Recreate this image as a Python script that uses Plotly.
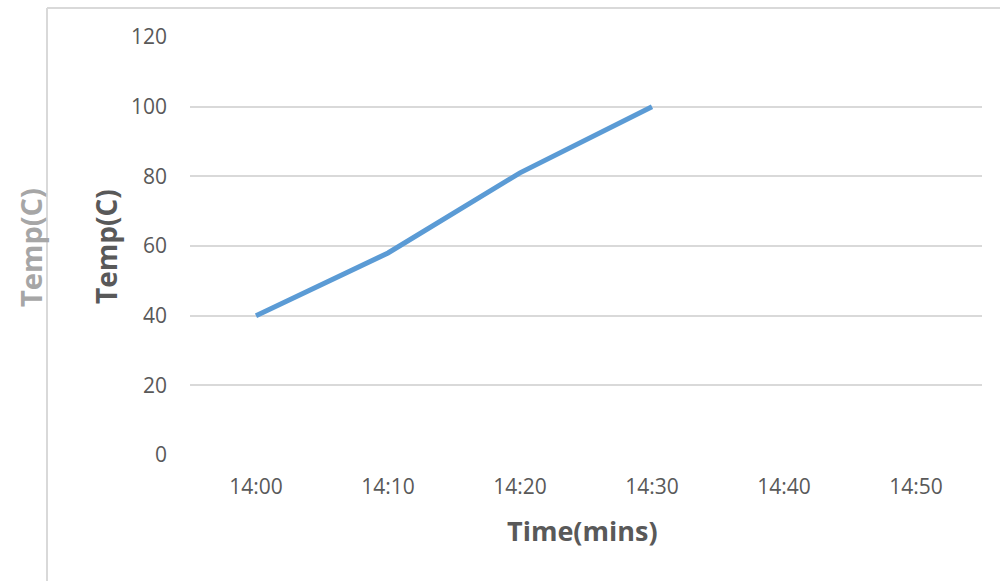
import plotly.graph_objects as go

times = ["14:00", "14:10", "14:20", "14:30", "14:40", "14:50"]
temps = [40, 58, 81, 100, None, None]
y_ticks = [0, 20, 40, 60, 80, 100, 120]

W, H = 1000, 581
L, R, T, B = 190, 18, 37, 126
pw = W - L - R
ph = H - T - B

def px(x):
    return (x - L) / pw

def py(y):
    return (H - B - y) / ph

fig = go.Figure()
fig.add_trace(go.Scatter(
    x=times, y=temps, mode="lines",
    line=dict(color="#5B9BD5", width=5),
    connectgaps=False, showlegend=False, hoverinfo="skip",
))

font_fam = "Open Sans, Liberation Sans, sans-serif"

fig.update_layout(
    width=W, height=H,
    margin=dict(l=L, r=R, t=T, b=B),
    paper_bgcolor="white", plot_bgcolor="white",
    font=dict(family=font_fam, color="#595959"),
    xaxis=dict(
        type="category", categoryorder="array", categoryarray=times,
        range=[-0.5, 5.5], showgrid=False, zeroline=False,
        showline=False, ticks="", tickfont=dict(size=21, color="#595959"),
        ticklabelstandoff=17,
    ),
    yaxis=dict(
        range=[0, 120], tickvals=y_ticks, showgrid=True,
        gridcolor="#d9d9d9", gridwidth=1.5, zeroline=False,
        showline=False, ticks="", tickfont=dict(size=21, color="#595959"),
        ticklabelstandoff=22,
    ),
    shapes=[
        dict(type="line", xref="paper", yref="paper",
             x0=px(47), x1=px(47), y0=py(8), y1=py(581),
             line=dict(color="#d9d9d9", width=2)),
        dict(type="line", xref="paper", yref="paper",
             x0=px(47), x1=px(1000), y0=py(8), y1=py(8),
             line=dict(color="#d9d9d9", width=2)),
    ],
    annotations=[
        dict(text="<b>Time(mins)</b>", xref="paper", yref="paper",
             x=px(582), y=py(530), xanchor="center", yanchor="middle",
             showarrow=False,
             font=dict(size=27, color="#595959", family=font_fam)),
        dict(text="<b>Temp(C)</b>", xref="paper", yref="paper",
             x=px(106), y=py(247), xanchor="center", yanchor="middle",
             showarrow=False, textangle=-90,
             font=dict(size=28, color="#595959", family=font_fam)),
        dict(text="<b>Temp(C)</b>", xref="paper", yref="paper",
             x=px(30), y=py(248), xanchor="center", yanchor="middle",
             showarrow=False, textangle=-90,
             font=dict(size=29, color="#a6a6a6", family=font_fam)),
    ],
)

fig.write_html(
    "out.html",
    config={"displayModeBar": False},
    post_script="document.body.style.margin='0';document.body.style.padding='0';",
)
